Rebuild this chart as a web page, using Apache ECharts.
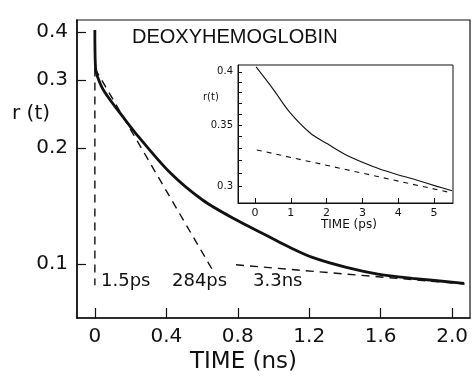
<!DOCTYPE html>
<html>
<head>
<meta charset="utf-8">
<script src="https://cdn.jsdelivr.net/npm/echarts@6/dist/echarts.min.js"></script>
<style>
  html, body { margin: 0; padding: 0; background: #fff; }
  #chart { width: 474px; height: 376px; }
</style>
</head>
<body>
<div id="chart"></div>
<script>
// main panel: r(t) vs time in ns (log y)
const mainT = [0.0, 0.004, 0.039, 0.095, 0.151, 0.223, 0.419, 0.603, 0.793, 0.978, 1.073, 1.218, 1.408, 1.592, 1.777, 2.067];
const mainR = [0.405, 0.322, 0.288, 0.263, 0.243, 0.220, 0.173, 0.1466, 0.130, 0.1175, 0.1115, 0.104, 0.098, 0.094, 0.0918, 0.0891];
const fast15T = [0.0, 0.0];          // 1.5 ps component
const fast15R = [0.322, 0.088];
const mid284T = [0.0, 0.659];        // 284 ps component
const mid284R = [0.322, 0.0964];
const slow33T = [0.79, 2.07];        // 3.3 ns component
const slow33R = [0.0995, 0.0887];
const mainXTicks = [0, 0.4, 0.8, 1.2, 1.6, 2.0];
const mainYTicks = [0.1, 0.2, 0.3, 0.4];

// inset: first picoseconds
const insetT = [0.03, 0.5, 0.98, 1.54, 2.01, 2.65, 3.41, 3.85, 4.53, 5.08, 5.5];
const insetR = [0.405, 0.3833, 0.361, 0.343, 0.334, 0.323, 0.314, 0.310, 0.3045, 0.2999, 0.2966];
const insetDashT = [0.05, 5.5];
const insetDashR = [0.3287, 0.295];
const insetXTicks = [0, 1, 2, 3, 4, 5];
const insetYTicks = [0.3, 0.35, 0.4];
const insetYAllTicks = [0.3, 0.31, 0.32, 0.33, 0.34, 0.35, 0.36, 0.37, 0.38, 0.39, 0.4];

const ink = '#111';
const font = 'DejaVu Sans';
const pairs = (xs, ys) => xs.map((x, i) => [x, ys[i]]);

const myChart = echarts.init(document.getElementById('chart'), null, { renderer: 'canvas' });

const lineSeries = (name, data, xi, yi, width, dashed, smooth) => ({
  name: name,
  type: 'line',
  xAxisIndex: xi,
  yAxisIndex: yi,
  data: data,
  symbol: 'none',
  smooth: smooth || false,
  silent: true,
  animation: false,
  lineStyle: { color: ink, width: width, type: dashed ? dashed : 'solid' }
});

let option = {
  backgroundColor: '#fff',
  animation: false,
  grid: [
    { left: 77, top: 20, right: 4, bottom: 58, show: true, borderColor: ink, borderWidth: 1.2 },
    { left: 238, top: 65, right: 21, bottom: 173, show: true, borderColor: ink, borderWidth: 1 }
  ],
  xAxis: [
    {
      type: 'value', gridIndex: 0, min: -0.1, max: 2.1,
      axisLine: { onZero: false, lineStyle: { color: ink, width: 1.6 } },
      axisTick: { inside: true, length: 10, customValues: mainXTicks, lineStyle: { color: ink, width: 1.2 } },
      axisLabel: {
        customValues: mainXTicks, margin: 9, color: ink, fontFamily: font, fontSize: 20,
        formatter: v => (v === 0 ? '0' : v.toFixed(1))
      },
      splitLine: { show: false }
    },
    {
      type: 'value', gridIndex: 1, min: -0.475, max: 5.53,
      axisLine: { onZero: false, lineStyle: { color: ink, width: 1 } },
      axisTick: { inside: true, length: 5, customValues: insetXTicks, lineStyle: { color: ink, width: 1 } },
      axisLabel: { customValues: insetXTicks, margin: 5, color: ink, fontFamily: font, fontSize: 11 },
      splitLine: { show: false }
    }
  ],
  yAxis: [
    {
      type: 'log', gridIndex: 0, min: 0.0724, max: 0.43,
      axisLine: { onZero: false, lineStyle: { color: ink, width: 1.6 } },
      axisTick: { inside: true, length: 9, customValues: mainYTicks, lineStyle: { color: ink, width: 1.2 } },
      axisLabel: { customValues: mainYTicks, margin: 9, color: ink, fontFamily: font, fontSize: 20 },
      minorTick: { show: false },
      splitLine: { show: false }
    },
    {
      type: 'log', gridIndex: 1, min: 0.2876, max: 0.407,
      axisLine: { onZero: false, lineStyle: { color: ink, width: 1 } },
      axisTick: { inside: true, length: 4, customValues: insetYAllTicks, lineStyle: { color: ink, width: 1 } },
      axisLabel: {
        customValues: insetYTicks, margin: 5, color: ink, fontFamily: font, fontSize: 10,
        formatter: v => String(v)
      },
      splitLine: { show: false }
    }
  ],
  graphic: [
    { type: 'text', left: 132, top: 27, style: { text: 'DEOXYHEMOGLOBIN', fill: ink, font: '20px "Liberation Sans"' } },
    { type: 'text', left: 12, top: 104, style: { text: 'r (t)', fill: ink, font: '20px ' + font } },
    { type: 'text', left: 190, top: 351, style: { text: 'TIME (ns)', fill: ink, font: '23px ' + font } },
    { type: 'text', left: 101, top: 272, style: { text: '1.5ps', fill: ink, font: '18px ' + font } },
    { type: 'text', left: 172, top: 272, style: { text: '284ps', fill: ink, font: '18px ' + font } },
    { type: 'text', left: 253, top: 272, style: { text: '3.3ns', fill: ink, font: '18px ' + font } },
    { type: 'text', left: 203, top: 92, style: { text: 'r(t)', fill: ink, font: '10px ' + font } },
    { type: 'text', left: 321, top: 219, style: { text: 'TIME (ps)', fill: ink, font: '12px ' + font } }
  ],
  series: [
    lineSeries('main', pairs(mainT, mainR), 0, 0, 2.8, null, 0.3),
    lineSeries('1.5ps', pairs(fast15T, fast15R), 0, 0, 1.4, [8, 6]),
    lineSeries('284ps', pairs(mid284T, mid284R), 0, 0, 1.4, [8, 6]),
    lineSeries('3.3ns', pairs(slow33T, slow33R), 0, 0, 1.4, [8, 6]),
    lineSeries('inset', pairs(insetT, insetR), 1, 1, 1.1, null, 0.35),
    lineSeries('insetDash', pairs(insetDashT, insetDashR), 1, 1, 1.1, [5, 5])
  ]
};
myChart.setOption(option);
</script>
</body>
</html>
